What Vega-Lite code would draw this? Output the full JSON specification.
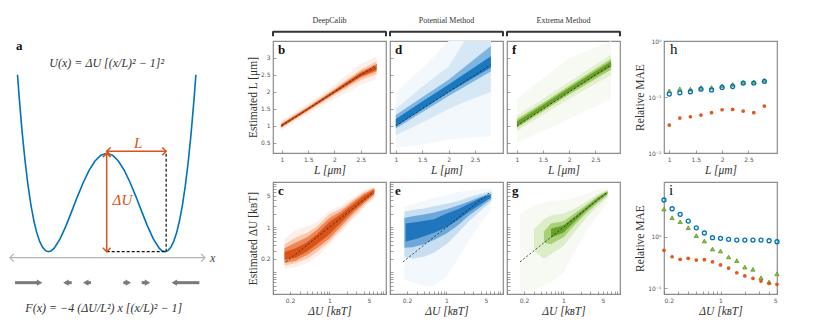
{
"$schema": "https://vega.github.io/schema/vega-lite/v6.json",
"padding": {"left": 0, "top": 16, "right": 0, "bottom": 0},
"background": "white",
"bounds": "flush",
"align": "each",
"columns": 6,
"spacing": {"row": 29, "column": 4},
"config": {
  "view": {"stroke": "#8c8c8c", "strokeWidth": 1.2},
  "axis": {"grid": false, "domain": false, "tickSize": -3, "tickColor": "#777", "tickWidth": 0.7, "labelFont": "DejaVu Sans", "labelFontSize": 6, "labelColor": "#555", "labelPadding": 6, "titleFont": "Liberation Serif", "titleFontSize": 11.5, "titleFontWeight": "normal", "titleColor": "#333", "titlePadding": 2},
  "text": {"font": "Liberation Serif"}
},
"concat": [
{
 "width": 269, "height": 112, "view": {"stroke": null},
 "encoding": {
   "x": {"field": "x", "type": "quantitative", "scale": {"domain": [-1.83, 2.784], "nice": false, "zero": false}, "axis": null},
   "y": {"field": "y", "type": "quantitative", "scale": {"domain": [1.0028, 2.141], "nice": false, "zero": false}, "axis": null}
 },
 "layer": [
  {"data": {"values": [{"x": -1.66, "y": -0.061, "x2": 1.686}]}, "mark": {"type": "rule", "color": "#b3b3b3", "strokeWidth": 1.2}, "encoding": {"x2": {"field": "x2"}}},
  {"data": {"values": [{"x": -1.66, "y": -0.061, "s": "M1,-1L0,0L1,1"}, {"x": 1.686, "y": -0.061, "s": "M-1,-1L0,0L-1,1"}]}, "mark": {"type": "point", "filled": false, "color": "#b3b3b3", "size": 60, "strokeWidth": 1.2, "opacity": 1}, "encoding": {"shape": {"field": "s", "type": "nominal", "scale": null}}},
  {"data": {"values": [
    {"x": -1.53, "y": 1.798}, {"x": -1.5, "y": 1.5625}, {"x": -1.45, "y": 1.2155}, {"x": -1.4, "y": 0.9216}, {"x": -1.35, "y": 0.6765}, {"x": -1.3, "y": 0.4761}, {"x": -1.25, "y": 0.3164}, {"x": -1.2, "y": 0.1936}, {"x": -1.15, "y": 0.104}, {"x": -1.1, "y": 0.0441}, {"x": -1.05, "y": 0.0105}, {"x": -1.0, "y": 0}, {"x": -0.95, "y": 0.0095}, {"x": -0.9, "y": 0.0361}, {"x": -0.8, "y": 0.1296}, {"x": -0.7, "y": 0.2601}, {"x": -0.6, "y": 0.4096}, {"x": -0.5, "y": 0.5625}, {"x": -0.4, "y": 0.7056}, {"x": -0.3, "y": 0.8281}, {"x": -0.2, "y": 0.9216}, {"x": -0.1, "y": 0.9801}, {"x": 0, "y": 1},
    {"x": 0.1, "y": 0.9801}, {"x": 0.2, "y": 0.9216}, {"x": 0.3, "y": 0.8281}, {"x": 0.4, "y": 0.7056}, {"x": 0.5, "y": 0.5625}, {"x": 0.6, "y": 0.4096}, {"x": 0.7, "y": 0.2601}, {"x": 0.8, "y": 0.1296}, {"x": 0.9, "y": 0.0361}, {"x": 0.95, "y": 0.0095}, {"x": 1.0, "y": 0}, {"x": 1.05, "y": 0.0105}, {"x": 1.1, "y": 0.0441}, {"x": 1.15, "y": 0.104}, {"x": 1.2, "y": 0.1936}, {"x": 1.25, "y": 0.3164}, {"x": 1.3, "y": 0.4761}, {"x": 1.35, "y": 0.6765}, {"x": 1.4, "y": 0.9216}, {"x": 1.45, "y": 1.2155}, {"x": 1.5, "y": 1.5625}, {"x": 1.53, "y": 1.798}
  ]}, "mark": {"type": "line", "color": "#0072BD", "strokeWidth": 1.6}},
  {"data": {"values": [{"x": 1.02, "x2": 1.02, "y": 0, "y2": 1.01}, {"x": 0, "x2": 1.02, "y": 0, "y2": 0}]}, "mark": {"type": "rule", "color": "#111", "strokeDash": [3, 2], "strokeWidth": 1.2}, "encoding": {"x2": {"field": "x2"}, "y2": {"field": "y2"}}},
  {"data": {"values": [{"x": 0, "x2": 0, "y": 0, "y2": 1.0}, {"x": 0, "x2": 1.02, "y": 1.02, "y2": 1.02}]}, "mark": {"type": "rule", "color": "#D95319", "strokeWidth": 1.5}, "encoding": {"x2": {"field": "x2"}, "y2": {"field": "y2"}}},
  {"data": {"values": [{"x": 0, "y": 1.0, "s": "M-1,1L0,0L1,1"}, {"x": 0, "y": 0, "s": "M-1,-1L0,0L1,-1"}, {"x": 0, "y": 1.02, "s": "M1,-1L0,0L1,1"}, {"x": 1.02, "y": 1.02, "s": "M-1,-1L0,0L-1,1"}]}, "mark": {"type": "point", "filled": false, "color": "#D95319", "size": 60, "strokeWidth": 1.5, "opacity": 1}, "encoding": {"shape": {"field": "s", "type": "nominal", "scale": null}}},
  {"data": {"values": [{"x": -1.573, "x2": -1.17, "y": -0.315}, {"x": -0.70, "x2": -0.60, "y": -0.315}, {"x": -0.36, "x2": -0.27, "y": -0.315}, {"x": 0.285, "x2": 0.37, "y": -0.315}, {"x": 0.60, "x2": 0.70, "y": -0.315}, {"x": 1.16, "x2": 1.59, "y": -0.315}]}, "mark": {"type": "rule", "color": "#7a7a7a", "strokeWidth": 3}, "encoding": {"x2": {"field": "x2"}}},
  {"data": {"values": [{"x": -1.15, "y": -0.315}, {"x": 0.37, "y": -0.315}, {"x": 0.70, "y": -0.315}]}, "mark": {"type": "point", "shape": "triangle-right", "filled": true, "color": "#7a7a7a", "size": 40, "opacity": 1}},
  {"data": {"values": [{"x": -0.70, "y": -0.315}, {"x": -0.36, "y": -0.315}, {"x": 1.16, "y": -0.315}]}, "mark": {"type": "point", "shape": "triangle-left", "filled": true, "color": "#7a7a7a", "size": 40, "opacity": 1}},
  {"data": {"values": [{"x": -1.556, "y": 2.09, "t": "a"}]}, "mark": {"type": "text", "fontWeight": "bold", "fontSize": 13, "align": "left", "baseline": "middle", "color": "#111"}, "encoding": {"text": {"field": "t"}}},
  {"data": {"values": [{"x": 0.0, "y": 1.915, "t": "U(x) = ΔU [(x/L)² − 1]²"}, {"x": -0.05, "y": -0.572, "t": "F(x) = −4 (ΔU/L²) x [(x/L)² − 1]"}]}, "mark": {"type": "text", "fontStyle": "italic", "fontSize": 12, "align": "center", "baseline": "middle", "color": "#333"}, "encoding": {"text": {"field": "t"}}},
  {"data": {"values": [{"x": 0.54, "y": 1.10, "t": "L"}, {"x": 0.27, "y": 0.525, "t": "ΔU"}]}, "mark": {"type": "text", "fontStyle": "italic", "fontSize": 15, "align": "center", "baseline": "middle", "color": "#D95319"}, "encoding": {"text": {"field": "t"}}},
  {"data": {"values": [{"x": 1.77, "y": -0.061, "t": "x"}]}, "mark": {"type": "text", "fontStyle": "italic", "fontSize": 12, "align": "left", "baseline": "middle", "color": "#444"}, "encoding": {"text": {"field": "t"}}}
 ]
},
{
 "width": 113, "height": 112,
 "encoding": {
   "x": {"field": "x", "type": "quantitative", "scale": {"domain": [0.83, 2.98], "nice": false, "zero": false}, "axis": {"values": [1, 1.5, 2, 2.5], "format": "~g", "title": "L [μm]", "titleFontStyle": "italic"}},
   "y": {"field": "y", "type": "quantitative", "scale": {"domain": [0.2, 3.5], "nice": false, "zero": false}, "axis": {"values": [0.5, 1, 1.5, 2, 2.5, 3], "format": "~g", "title": "Estimated L [μm]"}}
 },
 "layer": [
  {"data": {"values": [{"x": 0.98, "y": 0.86, "y2": 1.14}, {"x": 1.5, "y": 1.35, "y2": 1.66}, {"x": 2, "y": 1.8, "y2": 2.22}, {"x": 2.5, "y": 2.2, "y2": 2.82}, {"x": 2.8, "y": 2.38, "y2": 3.05}]}, "mark": {"type": "area", "color": "#FEF0E9", "opacity": 1}, "encoding": {"y2": {"field": "y2"}}},
  {"data": {"values": [{"x": 0.98, "y": 0.92, "y2": 1.08}, {"x": 1.5, "y": 1.42, "y2": 1.59}, {"x": 2, "y": 1.9, "y2": 2.11}, {"x": 2.5, "y": 2.34, "y2": 2.66}, {"x": 2.8, "y": 2.52, "y2": 2.9}]}, "mark": {"type": "area", "color": "#F8C9B0", "opacity": 1}, "encoding": {"y2": {"field": "y2"}}},
  {"data": {"values": [{"x": 0.98, "y": 0.95, "y2": 1.045}, {"x": 1.5, "y": 1.46, "y2": 1.55}, {"x": 2, "y": 1.95, "y2": 2.06}, {"x": 2.5, "y": 2.42, "y2": 2.6}, {"x": 2.8, "y": 2.6, "y2": 2.82}]}, "mark": {"type": "area", "color": "#EE8755", "opacity": 1}, "encoding": {"y2": {"field": "y2"}}},
  {"data": {"values": [{"x": 0.98, "y": 0.968, "y2": 1.03}, {"x": 1.5, "y": 1.475, "y2": 1.532}, {"x": 2, "y": 1.97, "y2": 2.04}, {"x": 2.5, "y": 2.46, "y2": 2.56}, {"x": 2.8, "y": 2.65, "y2": 2.77}]}, "mark": {"type": "area", "color": "#D24A12", "opacity": 1}, "encoding": {"y2": {"field": "y2"}}},
  {"data": {"values": [{"x": 1, "y": 1, "x2": 2.8, "y2": 2.8}]}, "mark": {"type": "rule", "color": "#222", "strokeDash": [2, 2], "strokeWidth": 0.8}, "encoding": {"x2": {"field": "x2"}, "y2": {"field": "y2"}}},
  {"data": {"values": [{"x": 0.925, "y": 3.126, "t": "b"}]}, "mark": {"type": "text", "fontWeight": "bold", "fontSize": 13, "align": "left", "baseline": "alphabetic", "color": "#111"}, "encoding": {"text": {"field": "t"}}},
  {"data": {"values": [{"x": 0.83, "x2": 2.98, "y": 3.774, "y2": 3.774}, {"x": 0.83, "x2": 0.83, "y": 3.79, "y2": 3.64}, {"x": 2.98, "x2": 2.98, "y": 3.79, "y2": 3.64}]}, "mark": {"type": "rule", "color": "#333", "strokeWidth": 2}, "encoding": {"x2": {"field": "x2"}, "y2": {"field": "y2"}}},
  {"data": {"values": [{"x": 1.905, "y": 4.097, "t": "DeepCalib"}]}, "mark": {"type": "text", "fontSize": 8, "align": "center", "baseline": "middle", "color": "#333"}, "encoding": {"text": {"field": "t"}}}
 ]
},
{
 "width": 113, "height": 112,
 "encoding": {
   "x": {"field": "x", "type": "quantitative", "scale": {"domain": [0.89, 3.03], "nice": false, "zero": false}, "axis": {"values": [1, 1.5, 2, 2.5], "format": "~g", "title": "L [μm]", "titleFontStyle": "italic"}},
   "y": {"field": "y", "type": "quantitative", "scale": {"domain": [0.2, 3.5], "nice": false, "zero": false}, "axis": {"values": [0.5, 1, 1.5, 2, 2.5, 3], "labels": false, "title": null}}
 },
 "layer": [
  {"data": {"values": [{"x": 1, "y": 0.35, "y2": 2.0}, {"x": 1.5, "y": 0.45, "y2": 2.7}, {"x": 2, "y": 0.6, "y2": 3.5}, {"x": 2.8, "y": 0.7, "y2": 3.5}]}, "mark": {"type": "area", "color": "#F3F8FD", "opacity": 1}, "encoding": {"y2": {"field": "y2"}}},
  {"data": {"values": [{"x": 1, "y": 0.72, "y2": 1.5}, {"x": 1.5, "y": 1.1, "y2": 2.15}, {"x": 2, "y": 1.5, "y2": 2.75}, {"x": 2.3, "y": 1.7, "y2": 3.5}, {"x": 2.8, "y": 2.0, "y2": 3.5}]}, "mark": {"type": "area", "color": "#D6E8F6", "opacity": 1}, "encoding": {"y2": {"field": "y2"}}},
  {"data": {"values": [{"x": 1, "y": 0.92, "y2": 1.32}, {"x": 1.5, "y": 1.4, "y2": 1.84}, {"x": 2, "y": 1.88, "y2": 2.36}, {"x": 2.8, "y": 2.6, "y2": 3.35}]}, "mark": {"type": "area", "color": "#7DB5E0", "opacity": 1}, "encoding": {"y2": {"field": "y2"}}},
  {"data": {"values": [{"x": 1, "y": 0.98, "y2": 1.2}, {"x": 1.5, "y": 1.48, "y2": 1.72}, {"x": 2, "y": 1.98, "y2": 2.22}, {"x": 2.8, "y": 2.72, "y2": 3.05}]}, "mark": {"type": "area", "color": "#1A78BE", "opacity": 1}, "encoding": {"y2": {"field": "y2"}}},
  {"data": {"values": [{"x": 1, "y": 1, "x2": 2.8, "y2": 2.8}]}, "mark": {"type": "rule", "color": "#222", "strokeDash": [2, 2], "strokeWidth": 0.8}, "encoding": {"x2": {"field": "x2"}, "y2": {"field": "y2"}}},
  {"data": {"values": [{"x": 0.985, "y": 3.126, "t": "d"}]}, "mark": {"type": "text", "fontWeight": "bold", "fontSize": 13, "align": "left", "baseline": "alphabetic", "color": "#111"}, "encoding": {"text": {"field": "t"}}},
  {"data": {"values": [{"x": 0.89, "x2": 3.03, "y": 3.774, "y2": 3.774}, {"x": 0.89, "x2": 0.89, "y": 3.79, "y2": 3.64}, {"x": 3.03, "x2": 3.03, "y": 3.79, "y2": 3.64}]}, "mark": {"type": "rule", "color": "#333", "strokeWidth": 2}, "encoding": {"x2": {"field": "x2"}, "y2": {"field": "y2"}}},
  {"data": {"values": [{"x": 1.96, "y": 4.097, "t": "Potential Method"}]}, "mark": {"type": "text", "fontSize": 8, "align": "center", "baseline": "middle", "color": "#333"}, "encoding": {"text": {"field": "t"}}}
 ]
},
{
 "width": 113, "height": 112,
 "encoding": {
   "x": {"field": "x", "type": "quantitative", "scale": {"domain": [0.81, 2.97], "nice": false, "zero": false}, "axis": {"values": [1, 1.5, 2, 2.5], "format": "~g", "title": "L [μm]", "titleFontStyle": "italic"}},
   "y": {"field": "y", "type": "quantitative", "scale": {"domain": [0.2, 3.5], "nice": false, "zero": false}, "axis": {"values": [0.5, 1, 1.5, 2, 2.5, 3], "labels": false, "title": null}}
 },
 "layer": [
  {"data": {"values": [{"x": 1, "y": 0.5, "y2": 1.8}, {"x": 2, "y": 1.2, "y2": 3.0}, {"x": 2.8, "y": 1.8, "y2": 3.5}]}, "mark": {"type": "area", "color": "#F7FAF2", "opacity": 1}, "encoding": {"y2": {"field": "y2"}}},
  {"data": {"values": [{"x": 1, "y": 0.85, "y2": 1.3}, {"x": 1.5, "y": 1.33, "y2": 1.8}, {"x": 2, "y": 1.8, "y2": 2.3}, {"x": 2.8, "y": 2.5, "y2": 3.1}]}, "mark": {"type": "area", "color": "#E2F0D0", "opacity": 1}, "encoding": {"y2": {"field": "y2"}}},
  {"data": {"values": [{"x": 1, "y": 0.94, "y2": 1.2}, {"x": 1.5, "y": 1.43, "y2": 1.68}, {"x": 2, "y": 1.92, "y2": 2.18}, {"x": 2.8, "y": 2.65, "y2": 2.98}]}, "mark": {"type": "area", "color": "#A6CE70", "opacity": 1}, "encoding": {"y2": {"field": "y2"}}},
  {"data": {"values": [{"x": 1, "y": 0.99, "y2": 1.13}, {"x": 1.5, "y": 1.49, "y2": 1.62}, {"x": 2, "y": 1.99, "y2": 2.12}, {"x": 2.8, "y": 2.74, "y2": 2.9}]}, "mark": {"type": "area", "color": "#67A127", "opacity": 1}, "encoding": {"y2": {"field": "y2"}}},
  {"data": {"values": [{"x": 1, "y": 1, "x2": 2.8, "y2": 2.8}]}, "mark": {"type": "rule", "color": "#222", "strokeDash": [2, 2], "strokeWidth": 0.8}, "encoding": {"x2": {"field": "x2"}, "y2": {"field": "y2"}}},
  {"data": {"values": [{"x": 0.905, "y": 3.126, "t": "f"}]}, "mark": {"type": "text", "fontWeight": "bold", "fontSize": 13, "align": "left", "baseline": "alphabetic", "color": "#111"}, "encoding": {"text": {"field": "t"}}},
  {"data": {"values": [{"x": 0.81, "x2": 2.97, "y": 3.774, "y2": 3.774}, {"x": 0.81, "x2": 0.81, "y": 3.79, "y2": 3.64}, {"x": 2.97, "x2": 2.97, "y": 3.79, "y2": 3.64}]}, "mark": {"type": "rule", "color": "#333", "strokeWidth": 2}, "encoding": {"x2": {"field": "x2"}, "y2": {"field": "y2"}}},
  {"data": {"values": [{"x": 1.89, "y": 4.097, "t": "Extrema Method"}]}, "mark": {"type": "text", "fontSize": 8, "align": "center", "baseline": "middle", "color": "#333"}, "encoding": {"text": {"field": "t"}}}
 ]
},
{
 "width": 36, "height": 112, "view": {"stroke": null},
 "data": {"values": [{"t": ""}]},
 "mark": {"type": "text"},
 "encoding": {"text": {"field": "t"}}
},
{
 "width": 113, "height": 112,
 "encoding": {
   "x": {"field": "x", "type": "quantitative", "scale": {"domain": [0.9, 3.04], "nice": false, "zero": false}, "axis": {"values": [1, 1.5, 2, 2.5], "format": "~g", "title": "L [μm]", "titleFontStyle": "italic"}},
   "y": {"field": "y", "type": "quantitative", "scale": {"type": "log", "domain": [0.01, 1], "nice": false}, "axis": {"values": [0.01, 0.1, 1], "labelExpr": "datum.value==1?'10⁰':datum.value==0.1?'10⁻¹':'10⁻²'", "title": "Relative MAE"}}
 },
 "layer": [
  {"data": {"values": [{"x": 1, "y": 0.129}, {"x": 1.2, "y": 0.14}, {"x": 1.4, "y": 0.138}, {"x": 1.6, "y": 0.148}, {"x": 1.8, "y": 0.148}, {"x": 2, "y": 0.158}, {"x": 2.2, "y": 0.168}, {"x": 2.4, "y": 0.182}, {"x": 2.6, "y": 0.186}, {"x": 2.8, "y": 0.2}]}, "mark": {"type": "point", "shape": "triangle-up", "filled": true, "color": "#8DC24A", "stroke": "#5E9421", "strokeWidth": 0.8, "size": 18, "opacity": 1}},
  {"data": {"values": [{"x": 1, "y": 0.113}, {"x": 1.2, "y": 0.119}, {"x": 1.4, "y": 0.124}, {"x": 1.6, "y": 0.138}, {"x": 1.8, "y": 0.134}, {"x": 2, "y": 0.148}, {"x": 2.2, "y": 0.154}, {"x": 2.4, "y": 0.177}, {"x": 2.6, "y": 0.177}, {"x": 2.8, "y": 0.19}]}, "mark": {"type": "point", "filled": false, "color": "#0072BD", "strokeWidth": 1.3, "size": 16, "opacity": 1}},
  {"data": {"values": [{"x": 1, "y": 0.0316}, {"x": 1.2, "y": 0.042}, {"x": 1.4, "y": 0.0444}, {"x": 1.6, "y": 0.0476}, {"x": 1.8, "y": 0.0524}, {"x": 2, "y": 0.0592}, {"x": 2.2, "y": 0.0601}, {"x": 2.4, "y": 0.0561}, {"x": 2.6, "y": 0.0524}, {"x": 2.8, "y": 0.0689}]}, "mark": {"type": "point", "filled": true, "color": "#E2571E", "size": 14, "opacity": 1}},
  {"data": {"values": [{"x": 1.014, "y": 0.578, "t": "h"}]}, "mark": {"type": "text", "fontSize": 15, "align": "left", "baseline": "alphabetic", "color": "#111"}, "encoding": {"text": {"field": "t"}}}
 ]
},
{
 "width": 269, "height": 112, "view": {"stroke": null},
 "data": {"values": [{"t": ""}]},
 "mark": {"type": "text"},
 "encoding": {"text": {"field": "t"}}
},
{
 "width": 113, "height": 112,
 "encoding": {
   "x": {"field": "x", "type": "quantitative", "scale": {"type": "log", "domain": [0.1, 10], "nice": false}, "axis": {"values": [0.1, 0.2, 0.3, 0.4, 0.5, 0.6, 0.7, 0.8, 0.9, 1, 2, 3, 4, 5, 6, 7, 8, 9, 10], "labelExpr": "datum.value==0.2?'0.2':datum.value==1?'1':datum.value==5?'5':''", "title": "ΔU [kʙT]", "titleFontStyle": "italic"}},
   "y": {"field": "y", "type": "quantitative", "scale": {"type": "log", "domain": [0.033, 10], "nice": false}, "axis": {"values": [0.04, 0.05, 0.06, 0.07, 0.08, 0.09, 0.1, 0.2, 0.3, 0.4, 0.5, 0.6, 0.7, 0.8, 0.9, 1, 2, 3, 4, 5, 6, 7, 8, 9, 10], "labelExpr": "datum.value==0.2?'0.2':datum.value==1?'1':datum.value==5?'5':''", "title": "Estimated ΔU [kʙT]"}}
 },
 "layer": [
  {"data": {"values": [{"x": 0.16, "y": 0.12, "y2": 0.55}, {"x": 0.25, "y": 0.13, "y2": 0.85}, {"x": 0.4, "y": 0.16, "y2": 1.05}, {"x": 0.6, "y": 0.22, "y2": 1.3}, {"x": 1.0, "y": 0.4, "y2": 2.3}, {"x": 1.6, "y": 0.75, "y2": 3.0}, {"x": 2.5, "y": 1.4, "y2": 4.5}, {"x": 4.0, "y": 2.6, "y2": 6.5}, {"x": 6.2, "y": 4.4, "y2": 8.0}]}, "mark": {"type": "area", "color": "#FEF0E9", "opacity": 1}, "encoding": {"y2": {"field": "y2"}}},
  {"data": {"values": [{"x": 0.16, "y": 0.14, "y2": 0.42}, {"x": 0.25, "y": 0.16, "y2": 0.58}, {"x": 0.4, "y": 0.2, "y2": 0.75}, {"x": 0.6, "y": 0.28, "y2": 1.05}, {"x": 1.0, "y": 0.48, "y2": 1.95}, {"x": 1.6, "y": 0.9, "y2": 2.6}, {"x": 2.5, "y": 1.6, "y2": 3.9}, {"x": 4.0, "y": 2.9, "y2": 5.9}, {"x": 6.2, "y": 4.8, "y2": 7.6}]}, "mark": {"type": "area", "color": "#F8C9B0", "opacity": 1}, "encoding": {"y2": {"field": "y2"}}},
  {"data": {"values": [{"x": 0.16, "y": 0.16, "y2": 0.34}, {"x": 0.25, "y": 0.18, "y2": 0.45}, {"x": 0.4, "y": 0.24, "y2": 0.6}, {"x": 0.6, "y": 0.34, "y2": 0.88}, {"x": 1.0, "y": 0.56, "y2": 1.6}, {"x": 1.6, "y": 1.05, "y2": 2.25}, {"x": 2.5, "y": 1.9, "y2": 3.5}, {"x": 4.0, "y": 3.3, "y2": 5.4}, {"x": 6.2, "y": 5.2, "y2": 7.2}]}, "mark": {"type": "area", "color": "#EE8755", "opacity": 1}, "encoding": {"y2": {"field": "y2"}}},
  {"data": {"values": [{"x": 0.16, "y": 0.19, "y2": 0.28}, {"x": 0.25, "y": 0.21, "y2": 0.34}, {"x": 0.4, "y": 0.29, "y2": 0.46}, {"x": 0.6, "y": 0.42, "y2": 0.7}, {"x": 1.0, "y": 0.7, "y2": 1.3}, {"x": 1.6, "y": 1.25, "y2": 1.95}, {"x": 2.5, "y": 2.2, "y2": 3.1}, {"x": 4.0, "y": 3.6, "y2": 4.9}, {"x": 6.2, "y": 5.6, "y2": 6.8}]}, "mark": {"type": "area", "color": "#D95319", "opacity": 1}, "encoding": {"y2": {"field": "y2"}}},
  {"data": {"values": [{"x": 0.17, "y": 0.17, "x2": 6, "y2": 6}]}, "mark": {"type": "rule", "color": "#222", "strokeDash": [2, 2], "strokeWidth": 0.8}, "encoding": {"x2": {"field": "x2"}, "y2": {"field": "y2"}}},
  {"data": {"values": [{"x": 0.1226, "y": 5.15, "t": "c"}]}, "mark": {"type": "text", "fontWeight": "bold", "fontSize": 13, "align": "left", "baseline": "alphabetic", "color": "#111"}, "encoding": {"text": {"field": "t"}}}
 ]
},
{
 "width": 113, "height": 112,
 "encoding": {
   "x": {"field": "x", "type": "quantitative", "scale": {"type": "log", "domain": [0.1, 10], "nice": false}, "axis": {"values": [0.1, 0.2, 0.3, 0.4, 0.5, 0.6, 0.7, 0.8, 0.9, 1, 2, 3, 4, 5, 6, 7, 8, 9, 10], "labelExpr": "datum.value==0.2?'0.2':datum.value==1?'1':datum.value==5?'5':''", "title": "ΔU [kʙT]", "titleFontStyle": "italic"}},
   "y": {"field": "y", "type": "quantitative", "scale": {"type": "log", "domain": [0.033, 10], "nice": false}, "axis": {"values": [0.04, 0.05, 0.06, 0.07, 0.08, 0.09, 0.1, 0.2, 0.3, 0.4, 0.5, 0.6, 0.7, 0.8, 0.9, 1, 2, 3, 4, 5, 6, 7, 8, 9, 10], "labels": false, "title": null}}
 },
 "layer": [
  {"data": {"values": [{"x": 0.18, "y": 0.07, "y2": 2.8}, {"x": 0.25, "y": 0.06, "y2": 3.2}, {"x": 0.4, "y": 0.05, "y2": 3.8}, {"x": 0.6, "y": 0.05, "y2": 4.5}, {"x": 1.0, "y": 0.08, "y2": 5.0}, {"x": 1.6, "y": 0.2, "y2": 6.0}, {"x": 2.5, "y": 0.5, "y2": 6.5}, {"x": 4.0, "y": 1.2, "y2": 7.0}, {"x": 6.2, "y": 2.5, "y2": 7.2}]}, "mark": {"type": "area", "color": "#F3F8FD", "opacity": 1}, "encoding": {"y2": {"field": "y2"}}},
  {"data": {"values": [{"x": 0.18, "y": 0.22, "y2": 2.2}, {"x": 0.25, "y": 0.2, "y2": 2.4}, {"x": 0.4, "y": 0.22, "y2": 2.6}, {"x": 0.6, "y": 0.27, "y2": 2.9}, {"x": 1.0, "y": 0.42, "y2": 3.3}, {"x": 1.6, "y": 0.75, "y2": 3.8}, {"x": 2.5, "y": 1.35, "y2": 4.6}, {"x": 4.0, "y": 2.3, "y2": 5.5}, {"x": 6.2, "y": 3.7, "y2": 6.2}]}, "mark": {"type": "area", "color": "#C8DFF2", "opacity": 1}, "encoding": {"y2": {"field": "y2"}}},
  {"data": {"values": [{"x": 0.18, "y": 0.35, "y2": 1.6}, {"x": 0.25, "y": 0.36, "y2": 1.75}, {"x": 0.4, "y": 0.42, "y2": 1.9}, {"x": 0.6, "y": 0.52, "y2": 2.1}, {"x": 1.0, "y": 0.72, "y2": 2.5}, {"x": 1.6, "y": 1.1, "y2": 3.0}, {"x": 2.5, "y": 1.8, "y2": 3.7}, {"x": 4.0, "y": 2.8, "y2": 4.7}, {"x": 6.2, "y": 4.2, "y2": 5.6}]}, "mark": {"type": "area", "color": "#6CA8DA", "opacity": 1}, "encoding": {"y2": {"field": "y2"}}},
  {"data": {"values": [{"x": 0.19, "y": 0.48, "y2": 1.2}, {"x": 0.3, "y": 0.55, "y2": 1.3}, {"x": 0.6, "y": 0.75, "y2": 1.5}, {"x": 1.0, "y": 1.0, "y2": 2.0}, {"x": 1.6, "y": 1.45, "y2": 2.5}, {"x": 2.5, "y": 2.2, "y2": 3.3}, {"x": 4.0, "y": 3.2, "y2": 4.4}, {"x": 6.0, "y": 4.5, "y2": 5.3}]}, "mark": {"type": "area", "color": "#1F76BC", "opacity": 1}, "encoding": {"y2": {"field": "y2"}}},
  {"data": {"values": [{"x": 0.17, "y": 0.17, "x2": 6, "y2": 6}]}, "mark": {"type": "rule", "color": "#222", "strokeDash": [2, 2], "strokeWidth": 0.8}, "encoding": {"x2": {"field": "x2"}, "y2": {"field": "y2"}}},
  {"data": {"values": [{"x": 0.1226, "y": 5.15, "t": "e"}]}, "mark": {"type": "text", "fontWeight": "bold", "fontSize": 13, "align": "left", "baseline": "alphabetic", "color": "#111"}, "encoding": {"text": {"field": "t"}}}
 ]
},
{
 "width": 113, "height": 112,
 "encoding": {
   "x": {"field": "x", "type": "quantitative", "scale": {"type": "log", "domain": [0.1, 10], "nice": false}, "axis": {"values": [0.1, 0.2, 0.3, 0.4, 0.5, 0.6, 0.7, 0.8, 0.9, 1, 2, 3, 4, 5, 6, 7, 8, 9, 10], "labelExpr": "datum.value==0.2?'0.2':datum.value==1?'1':datum.value==5?'5':''", "title": "ΔU [kʙT]", "titleFontStyle": "italic"}},
   "y": {"field": "y", "type": "quantitative", "scale": {"type": "log", "domain": [0.033, 10], "nice": false}, "axis": {"values": [0.04, 0.05, 0.06, 0.07, 0.08, 0.09, 0.1, 0.2, 0.3, 0.4, 0.5, 0.6, 0.7, 0.8, 0.9, 1, 2, 3, 4, 5, 6, 7, 8, 9, 10], "labels": false, "title": null}}
 },
 "layer": [
  {"data": {"values": [{"x": 0.17, "y": 0.04, "y2": 2.0}, {"x": 0.3, "y": 0.04, "y2": 3.0}, {"x": 0.45, "y": 0.05, "y2": 3.5}, {"x": 0.6, "y": 0.06, "y2": 3.8}, {"x": 1.0, "y": 0.1, "y2": 4.0}, {"x": 1.6, "y": 0.3, "y2": 4.5}, {"x": 2.5, "y": 0.8, "y2": 5.5}, {"x": 4.0, "y": 1.8, "y2": 6.8}, {"x": 6.0, "y": 3.5, "y2": 7.5}]}, "mark": {"type": "area", "color": "#F7FAF2", "opacity": 1}, "encoding": {"y2": {"field": "y2"}}},
  {"data": {"values": [{"x": 0.3, "y": 0.3, "y2": 0.9}, {"x": 0.45, "y": 0.2, "y2": 1.5}, {"x": 0.6, "y": 0.25, "y2": 1.8}, {"x": 1.0, "y": 0.38, "y2": 2.0}, {"x": 1.6, "y": 0.8, "y2": 2.6}, {"x": 2.5, "y": 1.6, "y2": 3.6}, {"x": 4.0, "y": 2.9, "y2": 5.3}, {"x": 6.0, "y": 4.6, "y2": 6.8}]}, "mark": {"type": "area", "color": "#DDEDC8", "opacity": 1}, "encoding": {"y2": {"field": "y2"}}},
  {"data": {"values": [{"x": 0.45, "y": 0.45, "y2": 0.8}, {"x": 0.6, "y": 0.42, "y2": 1.2}, {"x": 1.0, "y": 0.6, "y2": 1.35}, {"x": 1.6, "y": 1.15, "y2": 2.05}, {"x": 2.5, "y": 2.0, "y2": 3.05}, {"x": 4.0, "y": 3.4, "y2": 4.8}, {"x": 6.0, "y": 5.1, "y2": 6.4}]}, "mark": {"type": "area", "color": "#A9CF78", "opacity": 1}, "encoding": {"y2": {"field": "y2"}}},
  {"data": {"values": [{"x": 0.6, "y": 0.58, "y2": 0.92}, {"x": 1.0, "y": 0.76, "y2": 1.1}, {"x": 1.6, "y": 1.35, "y2": 1.75}, {"x": 2.5, "y": 2.3, "y2": 2.75}, {"x": 4.0, "y": 3.8, "y2": 4.4}, {"x": 6.0, "y": 5.5, "y2": 6.1}]}, "mark": {"type": "area", "color": "#66A12A", "opacity": 1}, "encoding": {"y2": {"field": "y2"}}},
  {"data": {"values": [{"x": 0.17, "y": 0.17, "x2": 6, "y2": 6}]}, "mark": {"type": "rule", "color": "#222", "strokeDash": [2, 2], "strokeWidth": 0.8}, "encoding": {"x2": {"field": "x2"}, "y2": {"field": "y2"}}},
  {"data": {"values": [{"x": 0.1226, "y": 5.15, "t": "g"}]}, "mark": {"type": "text", "fontWeight": "bold", "fontSize": 13, "align": "left", "baseline": "alphabetic", "color": "#111"}, "encoding": {"text": {"field": "t"}}}
 ]
},
{
 "width": 36, "height": 112, "view": {"stroke": null},
 "data": {"values": [{"t": ""}]},
 "mark": {"type": "text"},
 "encoding": {"text": {"field": "t"}}
},
{
 "width": 113, "height": 112,
 "encoding": {
   "x": {"field": "x", "type": "quantitative", "scale": {"type": "log", "domain": [0.2, 5], "nice": false}, "axis": {"values": [0.2, 0.3, 0.4, 0.5, 0.6, 0.7, 0.8, 0.9, 1, 2, 3, 4, 5], "labelExpr": "datum.value==0.2?'0.2':datum.value==1?'1':datum.value==5?'5':''", "title": "ΔU [kʙT]", "titleFontStyle": "italic"}},
   "y": {"field": "y", "type": "quantitative", "scale": {"type": "log", "domain": [0.078, 11.45], "nice": false}, "axis": {"values": [0.1, 1], "labelExpr": "datum.value==1?'10⁰':'10⁻¹'", "title": "Relative MAE"}}
 },
 "layer": [
  {"data": {"values": [{"x": 0.2, "y": 3.43}, {"x": 0.252, "y": 2.33}, {"x": 0.317, "y": 1.95}, {"x": 0.399, "y": 1.49}, {"x": 0.502, "y": 1.05}, {"x": 0.632, "y": 0.826}, {"x": 0.796, "y": 0.578}, {"x": 1.0, "y": 0.529}, {"x": 1.26, "y": 0.405}, {"x": 1.59, "y": 0.344}, {"x": 2.0, "y": 0.259}, {"x": 2.52, "y": 0.234}, {"x": 3.17, "y": 0.161}, {"x": 3.99, "y": 0.133}, {"x": 5.0, "y": 0.192}]}, "mark": {"type": "point", "shape": "triangle-up", "filled": true, "color": "#8DC24A", "stroke": "#5E9421", "strokeWidth": 0.8, "size": 18, "opacity": 1}},
  {"data": {"values": [{"x": 0.2, "y": 5.13}, {"x": 0.252, "y": 3.48}, {"x": 0.317, "y": 2.71}, {"x": 0.399, "y": 2.01}, {"x": 0.502, "y": 1.49}, {"x": 0.632, "y": 1.18}, {"x": 0.796, "y": 0.957}, {"x": 1.0, "y": 0.931}, {"x": 1.26, "y": 0.891}, {"x": 1.59, "y": 0.863}, {"x": 2.0, "y": 0.863}, {"x": 2.52, "y": 0.863}, {"x": 3.17, "y": 0.863}, {"x": 3.99, "y": 0.837}, {"x": 5.0, "y": 0.8}]}, "mark": {"type": "point", "filled": false, "color": "#0072BD", "strokeWidth": 1.3, "size": 16, "opacity": 1}},
  {"data": {"values": [{"x": 0.2, "y": 0.546}, {"x": 0.252, "y": 0.41}, {"x": 0.317, "y": 0.366}, {"x": 0.399, "y": 0.382}, {"x": 0.502, "y": 0.354}, {"x": 0.632, "y": 0.359}, {"x": 0.796, "y": 0.328}, {"x": 1.0, "y": 0.284}, {"x": 1.26, "y": 0.248}, {"x": 1.59, "y": 0.201}, {"x": 2.0, "y": 0.174}, {"x": 2.52, "y": 0.157}, {"x": 3.17, "y": 0.139}, {"x": 3.99, "y": 0.125}, {"x": 5.0, "y": 0.12}]}, "mark": {"type": "point", "filled": true, "color": "#E2571E", "size": 14, "opacity": 1}},
  {"data": {"values": [{"x": 0.231, "y": 6.41, "t": "i"}]}, "mark": {"type": "text", "fontSize": 15, "align": "left", "baseline": "alphabetic", "color": "#111"}, "encoding": {"text": {"field": "t"}}}
 ]
}
]
}
